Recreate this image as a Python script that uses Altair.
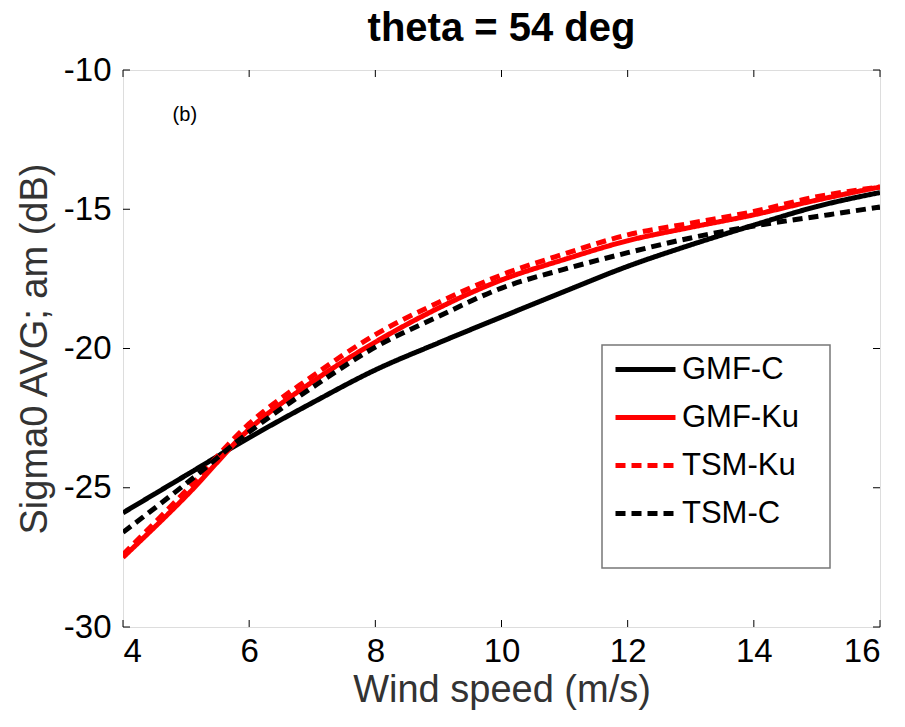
import altair as alt
import pandas as pd

wind = [4, 5, 6, 7, 8, 9, 10, 11, 12, 13, 14, 15, 16]
gmf_c = [-25.9, -24.55, -23.2, -21.95, -20.77, -19.8, -18.87, -17.95, -17.05, -16.28, -15.57, -14.9, -14.4]
gmf_ku = [-27.5, -25.3, -22.9, -21.2, -19.77, -18.55, -17.54, -16.8, -16.13, -15.65, -15.2, -14.67, -14.2]
tsm_ku = [-27.4, -25.1, -22.7, -21.0, -19.5, -18.35, -17.36, -16.6, -15.92, -15.5, -15.08, -14.55, -14.2]
tsm_c = [-26.6, -24.85, -23.0, -21.4, -19.95, -18.85, -17.83, -17.15, -16.56, -16.03, -15.6, -15.26, -14.92]

series_names = ["GMF-C", "GMF-Ku", "TSM-Ku", "TSM-C"]
series_vals = [gmf_c, gmf_ku, tsm_ku, tsm_c]
series_colors = ["#000000", "#ff0000", "#ff0000", "#000000"]
series_dash = [[1, 0], [1, 0], [10, 6], [10, 6]]
series_width = [5, 5, 3, 3]

x_ticks = [4, 6, 8, 10, 12, 14, 16]
y_ticks = [-30, -25, -20, -15, -10]
annot_x = [4.98]
annot_y = [-11.6]
annot_text = ["(b)"]

W, H = 757, 557
FONT = "Liberation Sans"

rows = []
for name, vals in zip(series_names, series_vals):
    for xv, yv in zip(wind, vals):
        rows.append({"wind": xv, "sigma": yv, "series": name})
df = pd.DataFrame(rows)

xscale = alt.Scale(domain=[4, 16], nice=False, zero=False)
yscale = alt.Scale(domain=[-30, -10], nice=False, zero=False)


def leg():
    return alt.Legend(title=None, orient="none", legendX=490, legendY=267, padding=0,
                      strokeColor="transparent", symbolType="stroke",
                      symbolSize=3600, labelFontSize=31, labelFont=FONT, labelColor="#000",
                      labelOffset=4, rowPadding=-7, labelLimit=300)


lines = alt.Chart(df).mark_line(clip=True, interpolate="monotone").encode(
    x=alt.X("wind:Q", scale=xscale,
            axis=alt.Axis(values=x_ticks, title="Wind speed (m/s)", grid=False, ticks=False,
                          domain=False, labelFontSize=33, labelFont=FONT, labelColor="#000",
                          labelExpr="datum.value + ''",
                          labelPadding=8, titleFontSize=38, titleFont=FONT, titleColor="#333",
                          titleFontWeight="normal", titleX=W / 2, titleY=63, titleBaseline="middle",
                          titleAlign="center")),
    y=alt.Y("sigma:Q", scale=yscale,
            axis=alt.Axis(values=y_ticks, title="Sigma0 AVG; am (dB)", grid=False, ticks=False,
                          domain=False, labelFontSize=33, labelFont=FONT, labelColor="#000",
                          labelExpr="datum.value + ''",
                          labelPadding=12, titleFontSize=38, titleFont=FONT, titleColor="#333",
                          titleFontWeight="normal", titleAngle=-90, titleX=-88, titleY=H / 2,
                          titleBaseline="middle", titleAlign="center")),
    color=alt.Color("series:N", scale=alt.Scale(domain=series_names, range=series_colors),
                    legend=leg()),
    strokeDash=alt.StrokeDash("series:N", scale=alt.Scale(domain=series_names, range=series_dash),
                              legend=leg()),
    strokeWidth=alt.StrokeWidth("series:N", scale=alt.Scale(domain=series_names, range=series_width),
                                legend=leg()),
    order=alt.Order("wind:Q"),
    detail="series:N",
)

xt = pd.DataFrame({"t": x_ticks})
yt = pd.DataFrame({"t": y_ticks})
tick_col = "#000"
xt_bottom = alt.Chart(xt).mark_rule(color=tick_col, strokeWidth=1).encode(
    x=alt.X("t:Q", scale=xscale), y=alt.value(H), y2=alt.value(H - 7))
xt_top = alt.Chart(xt).mark_rule(color=tick_col, strokeWidth=1).encode(
    x=alt.X("t:Q", scale=xscale), y=alt.value(0), y2=alt.value(7))
yt_left = alt.Chart(yt).mark_rule(color=tick_col, strokeWidth=1).encode(
    y=alt.Y("t:Q", scale=yscale), x=alt.value(0), x2=alt.value(7))
yt_right = alt.Chart(yt).mark_rule(color=tick_col, strokeWidth=1).encode(
    y=alt.Y("t:Q", scale=yscale), x=alt.value(W), x2=alt.value(W - 7))

# legend frame (decoration)
frame = alt.Chart(pd.DataFrame({"k": [0]})).mark_rect(
    fill="#fff", stroke="#777", strokeWidth=1.5).encode(
    x=alt.value(479), x2=alt.value(707), y=alt.value(275), y2=alt.value(498))

annot = alt.Chart(pd.DataFrame({"x": annot_x, "y": annot_y, "t": annot_text})).mark_text(
    fontSize=20, font=FONT, color="#000").encode(
    x=alt.X("x:Q", scale=xscale), y=alt.Y("y:Q", scale=yscale), text="t:N")

chart = alt.layer(xt_bottom, xt_top, yt_left, yt_right, annot, lines, frame).properties(
    width=W, height=H,
    title=alt.TitleParams("theta = 54 deg", fontSize=40, font=FONT, fontWeight="bold",
                          color="#000", anchor="middle", offset=5),
    autosize=alt.AutoSizeParams(type="none"),
    padding={"left": 123, "top": 70, "right": 25, "bottom": 100},
).configure_view(stroke="#000", strokeWidth=2).configure(background="white")

chart.save("out.html", embed_options={"renderer": "svg", "actions": False})
